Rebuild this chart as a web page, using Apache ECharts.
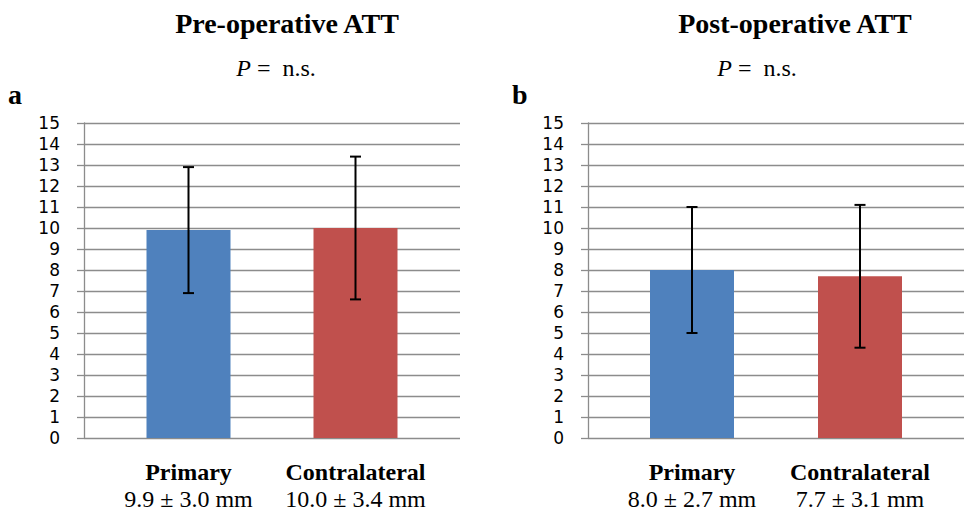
<!DOCTYPE html>
<html>
<head>
<meta charset="utf-8">
<script src="https://cdn.jsdelivr.net/npm/echarts@6/dist/echarts.min.js"></script>
<style>
html,body{margin:0;padding:0;background:#fff;}
#c{width:966px;height:515px;}
</style>
</head>
<body>
<div id="c"></div>
<script>
// ---- data ----
const categories = ['Primary', 'Contralateral'];
const preMeans = [9.9, 10.0];
const preErrs = [3.0, 3.4];
const preStats = ['9.9 ± 3.0 mm', '10.0 ± 3.4 mm'];
const postMeans = [8.0, 7.7];
const postErrs = [3.0, 3.4];
const postStats = ['8.0 ± 2.7 mm', '7.7 ± 3.1 mm'];
const yTicks = { min: 0, max: 15, interval: 1 };
const titles = ['Pre-operative ATT', 'Post-operative ATT'];
const pText = 'n.s.';
const panelLetters = ['a', 'b'];
const barColors = ['#4F81BD', '#C0504D'];

const chart = echarts.init(document.getElementById('c'), null, { renderer: 'svg' });

const gridColor = '#8c8c8c';
const serif = 'Liberation Serif';
const sans = 'DejaVu Sans';

const panels = [
  { axLeft: 84, axWidth: 376, barLeft: 105, barWidth: 334, means: preMeans, errs: preErrs, stats: preStats },
  { axLeft: 588, axWidth: 376, barLeft: 608, barWidth: 336, means: postMeans, errs: postErrs, stats: postStats }
];

const grid = [], xAxis = [], yAxis = [], series = [];
panels.forEach((p, k) => {
  const gA = grid.length;
  grid.push({ left: p.axLeft, top: 123, width: p.axWidth, height: 315 });
  const gB = grid.length;
  grid.push({ left: p.barLeft, top: 123, width: p.barWidth, height: 315 });

  // axis grid (visible y axis and gridlines)
  xAxis.push({ gridIndex: gA, type: 'category', data: [''], show: false });
  yAxis.push({
    gridIndex: gA, type: 'value', min: yTicks.min, max: yTicks.max, interval: yTicks.interval,
    axisLine: { show: true, lineStyle: { color: gridColor, width: 1.3 } },
    axisTick: { show: true, inside: false, length: 7, lineStyle: { color: gridColor, width: 1.3 } },
    splitLine: { show: true, lineStyle: { color: gridColor, width: 1.3 } },
    axisLabel: { show: true, margin: 24, color: '#000', fontFamily: sans, fontSize: 17, lineHeight: 19 }
  });

  // bar grid
  const xIdx = xAxis.length;
  xAxis.push({
    gridIndex: gB, type: 'category', data: categories,
    axisLine: { show: false }, axisTick: { show: false }, splitLine: { show: false },
    axisLabel: {
      show: true, margin: 20, interval: 0,
      formatter: (v, i) => '{b|' + v + '}\n{v|' + p.stats[i] + '}',
      rich: {
        b: { fontFamily: serif, fontWeight: 'bold', fontSize: 24, lineHeight: 27, color: '#000' },
        v: { fontFamily: serif, fontSize: 24, lineHeight: 27, color: '#000' }
      }
    }
  });
  const yIdx = yAxis.length;
  yAxis.push({
    gridIndex: gB, type: 'value', min: yTicks.min, max: yTicks.max, interval: yTicks.interval,
    show: false, splitLine: { show: false }
  });

  series.push({
    type: 'bar', xAxisIndex: xIdx, yAxisIndex: yIdx, barWidth: 84,
    data: p.means.map((m, i) => ({ value: m, itemStyle: { color: barColors[i] } })),
    z: 2
  });

  series.push({
    type: 'custom', xAxisIndex: xIdx, yAxisIndex: yIdx, z: 5,
    encode: { x: 0, y: [1, 2] },
    data: p.means.map((m, i) => [i, m - p.errs[i], m + p.errs[i]]),
    renderItem: (params, api) => {
      const i = api.value(0);
      const lo = api.coord([i, api.value(1)]);
      const hi = api.coord([i, api.value(2)]);
      const hw = 5.5;
      const st = { stroke: '#000', lineWidth: 2 };
      return {
        type: 'group',
        children: [
          { type: 'line', shape: { x1: lo[0], y1: lo[1], x2: hi[0], y2: hi[1] }, style: st },
          { type: 'line', shape: { x1: hi[0] - hw, y1: hi[1], x2: hi[0] + hw, y2: hi[1] }, style: st },
          { type: 'line', shape: { x1: lo[0] - hw, y1: lo[1], x2: lo[0] + hw, y2: lo[1] }, style: st }
        ]
      };
    }
  });
});

const graphic = [
  { type: 'text', x: 287, y: 23.5, style: { text: titles[0], font: 'bold 28px "Liberation Serif"', fill: '#000', textAlign: 'center', textVerticalAlign: 'middle' } },
  { type: 'text', x: 795, y: 23.5, style: { text: titles[1], font: 'bold 28px "Liberation Serif"', fill: '#000', textAlign: 'center', textVerticalAlign: 'middle' } },
  { type: 'text', x: 276, y: 68, style: { text: '{i|P} =  ' + pText, rich: { i: { fontStyle: 'italic', fontFamily: serif, fontSize: 24 } }, fontFamily: serif, fontSize: 24, fill: '#000', textAlign: 'center', textVerticalAlign: 'middle' } },
  { type: 'text', x: 757, y: 68, style: { text: '{i|P} =  ' + pText, rich: { i: { fontStyle: 'italic', fontFamily: serif, fontSize: 24 } }, fontFamily: serif, fontSize: 24, fill: '#000', textAlign: 'center', textVerticalAlign: 'middle' } },
  { type: 'text', x: 8, y: 94, style: { text: panelLetters[0], font: 'bold 28px "Liberation Serif"', fill: '#000', textAlign: 'left', textVerticalAlign: 'middle' } },
  { type: 'text', x: 512, y: 94, style: { text: panelLetters[1], font: 'bold 28px "Liberation Serif"', fill: '#000', textAlign: 'left', textVerticalAlign: 'middle' } }
];

chart.setOption({
  backgroundColor: '#fff',
  animation: false,
  grid, xAxis, yAxis, series, graphic
});
</script>
</body>
</html>
